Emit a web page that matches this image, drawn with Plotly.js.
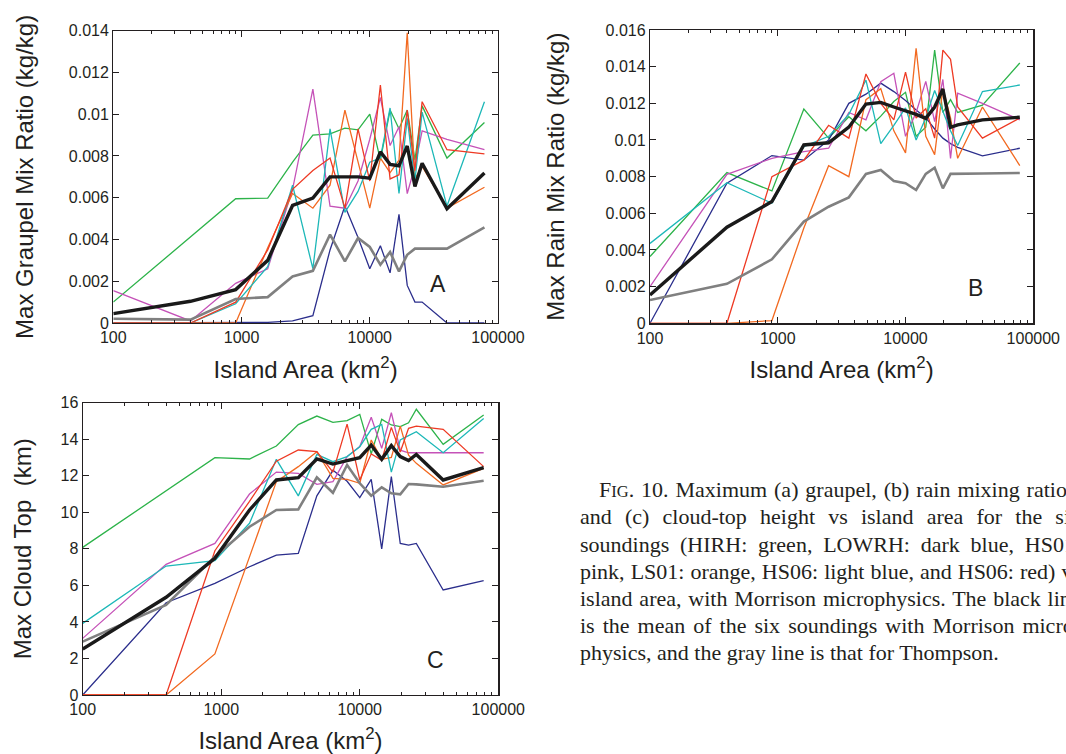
<!DOCTYPE html>
<html>
<head>
<meta charset="utf-8">
<script src="https://cdn.plot.ly/plotly-3.0.1.min.js"></script>
<style>html,body{margin:0;padding:0;background:#fff;}#chart{width:1066px;height:754px;}</style>
</head>
<body>
<div id="chart"></div>
<script>
// Island areas (km^2)
const islandArea = [100, 400, 900, 1600, 2500, 3600, 4900, 6400, 8100, 10000, 12100, 14400, 16900, 19600, 22500, 25600, 40000, 78400];

// Panel A: max graupel mixing ratio (kg/kg)
const graupelHIRH  = [0.001, 0.0041, 0.00595, 0.00598, 0.0077, 0.0090, 0.00906, 0.00933, 0.00925, 0.0100, 0.0078, 0.0102, 0.0093, 0.0102, 0.0078, 0.0104, 0.0079, 0.0096];
const graupelLOWRH = [0, 0, 0, 0.00003, 0.0001, 0.00035, 0.0035, 0.0056, 0.0041, 0.0026, 0.0037, 0.0024, 0.0052, 0.0018, 0.001, 0.001, 0, 0];
const graupelHS01  = [0.00155, 0.0001, 0.0019, 0.0026, 0.0064, 0.0112, 0.0056, 0.0055, 0.0068, 0.0088, 0.0108, 0.0085, 0.0094, 0.0062, 0.0075, 0.0092, 0.0088, 0.0083];
const graupelLS01  = [0, 0, 0, 0.0036, 0.0062, 0.0055, 0.0066, 0.0102, 0.0077, 0.0055, 0.0079, 0.0072, 0.0078, 0.0139, 0.0069, 0.0075, 0.0055, 0.0065];
const graupelHS06b = [0, 0, 0.00092, 0.0027, 0.0066, 0.0026, 0.0093, 0.0053, 0.0063, 0.0077, 0.0079, 0.0103, 0.0062, 0.0098, 0.0068, 0.0101, 0.0056, 0.0106];
const graupelHS06r = [0, 0, 0.001, 0.0035, 0.0064, 0.0073, 0.0079, 0.0055, 0.0093, 0.0068, 0.0114, 0.0069, 0.0071, 0.0102, 0.0073, 0.0106, 0.0083, 0.0081];
const graupelMean  = [0.00045, 0.00104, 0.0016, 0.0030, 0.00563, 0.00598, 0.0070, 0.0070, 0.0070, 0.00694, 0.0082, 0.0076, 0.00753, 0.00848, 0.00654, 0.00765, 0.00547, 0.00718];
const graupelThom  = [0.0002, 0.00016, 0.00115, 0.00124, 0.00223, 0.0025, 0.00423, 0.00295, 0.00407, 0.00364, 0.00279, 0.0034, 0.00247, 0.00327, 0.00356, 0.00356, 0.00356, 0.00458];

// Panel B: max rain mixing ratio (kg/kg)
const rainHIRH  = [0.00364, 0.00822, 0.00722, 0.01169, 0.0101, 0.01127, 0.0105, 0.0113, 0.0121, 0.0126, 0.0102, 0.0107, 0.0149, 0.0115, 0.0122, 0.0115, 0.0119, 0.0142];
const rainLOWRH = [0, 0.00764, 0.00915, 0.0089, 0.0100, 0.0120, 0.0125, 0.0131, 0.01264, 0.01215, 0.01164, 0.01122, 0.0106, 0.0101, 0.0098, 0.0096, 0.00913, 0.00955];
const rainHS01  = [0.002, 0.00813, 0.009, 0.00936, 0.00955, 0.0115, 0.0111, 0.01318, 0.01364, 0.0102, 0.0115, 0.0132, 0.011, 0.0133, 0.009, 0.01255, 0.0120, 0.0111];
const rainLS01  = [0, 0, 0.00015, 0.0052, 0.0086, 0.0080, 0.0122, 0.0128, 0.0105, 0.0093, 0.0150, 0.0102, 0.0092, 0.0128, 0.0112, 0.0090, 0.0118, 0.0086];
const rainHS06b = [0.00436, 0.00767, 0.00655, 0.00964, 0.0102, 0.0114, 0.01327, 0.0098, 0.0108, 0.01175, 0.0100, 0.0112, 0.0127, 0.0116, 0.0105, 0.0097, 0.01264, 0.0130];
const rainHS06r = [0, 0, 0.0080, 0.0089, 0.0108, 0.0101, 0.0136, 0.0120, 0.0111, 0.0137, 0.0112, 0.0117, 0.0101, 0.0149, 0.0144, 0.0118, 0.0101, 0.0112];
const rainMean  = [0.00155, 0.00524, 0.00664, 0.00973, 0.00985, 0.0107, 0.01196, 0.01205, 0.0118, 0.0116, 0.0114, 0.01118, 0.0118, 0.01278, 0.01069, 0.01082, 0.0111, 0.01124];
const rainThom  = [0.00127, 0.00215, 0.00349, 0.00555, 0.00636, 0.00687, 0.00815, 0.00836, 0.00776, 0.00764, 0.00727, 0.00815, 0.00849, 0.00736, 0.00815, 0.00815, 0.00817, 0.0082];

// Panel C: max cloud top (km)
const topHIRH  = [8.08, 11.2, 12.99, 12.92, 13.63, 14.8, 15.27, 14.92, 15.02, 15.36, 13.2, 15.09, 14.78, 14.69, 14.9, 15.64, 13.72, 15.33];
const topLOWRH = [0, 5.05, 6.11, 7.02, 7.66, 7.75, 10.9, 12.3, 11.7, 10.8, 11.8, 8.0, 11.95, 8.3, 8.2, 8.3, 5.75, 6.26];
const topHS01  = [3.1, 7.15, 8.3, 11.0, 12.2, 12.13, 11.53, 11.68, 13.05, 13.6, 15.2, 13.5, 15.45, 13.4, 13.26, 13.26, 13.26, 13.26];
const topLS01  = [0, 0, 2.25, 7.5, 11.68, 12.5, 13.32, 11.86, 11.8, 11.59, 13.96, 12.9, 13.0, 14.72, 13.13, 12.68, 11.5, 12.41];
const topHS06b = [3.92, 7.06, 7.35, 9.4, 12.9, 10.9, 13.17, 12.77, 13.05, 13.59, 14.54, 14.81, 12.2, 13.96, 14.2, 14.41, 13.26, 15.14];
const topHS06r = [0, 0, 7.9, 10.6, 12.8, 13.41, 13.32, 12.2, 14.83, 11.77, 13.2, 12.85, 14.65, 13.3, 14.6, 14.72, 14.54, 12.5];
const topMean  = [2.52, 5.35, 7.48, 10.13, 11.77, 11.9, 12.92, 12.64, 12.83, 12.99, 13.68, 12.9, 13.65, 13.05, 12.83, 13.17, 11.77, 12.44];
const topThom  = [2.92, 4.93, 7.57, 9.21, 10.13, 10.16, 11.91, 11.07, 12.59, 11.59, 10.91, 11.37, 11.04, 10.98, 11.55, 11.53, 11.4, 11.73];

// Tick labels
const xTickVals = [100, 1000, 10000, 100000];
const xTickText = ['100', '1000', '10000', '100000'];
const xMinorVals = [200,300,400,500,600,700,800,900,2000,3000,4000,5000,6000,7000,8000,9000,20000,30000,40000,50000,60000,70000,80000,90000];
const yTickValsA = [0, 0.002, 0.004, 0.006, 0.008, 0.01, 0.012, 0.014];
const yTickTextA = ['0', '0.002', '0.004', '0.006', '0.008', '0.01', '0.012', '0.014'];
const yTickValsB = [0, 0.002, 0.004, 0.006, 0.008, 0.01, 0.012, 0.014, 0.016];
const yTickTextB = ['0', '0.002', '0.004', '0.006', '0.008', '0.01', '0.012', '0.014', '0.016'];
const yTickValsC = [0, 2, 4, 6, 8, 10, 12, 14, 16];
const yTickTextC = ['0', '2', '4', '6', '8', '10', '12', '14', '16'];

const panelLetters = ['A', 'B', 'C'];
// Caption: first line starts with small-caps "FIG."
const captionLead = ['F', 'IG'];
const captionLines = [
  ". 10. Maximum (a) graupel, (b) rain mixing ratios,",
  "and (c) cloud-top height vs island area for the six",
  "soundings (HIRH: green, LOWRH: dark blue, HS01:",
  "pink, LS01: orange, HS06: light blue, and HS06: red) vs",
  "island area, with Morrison microphysics. The black line",
  "is the mean of the six soundings with Morrison micro-",
  "physics, and the gray line is that for Thompson."
];

const W = 1066, H = 754;
const col = {hirh:'#2DB34A', lowrh:'#2B2E8C', hs01:'#C552B8', ls01:'#F26A21', hs06b:'#1DB8B8', hs06r:'#EE3A24', mean:'#1A1A1A', thom:'#808080'};

function panelTraces(xa, ya, s) {
  const thin = 1.3;
  const defs = [
    [s[0], col.hirh, thin], [s[1], col.lowrh, thin], [s[2], col.hs01, thin],
    [s[3], col.ls01, thin], [s[4], col.hs06b, thin], [s[5], col.hs06r, thin],
    [s[7], col.thom, 2.6], [s[6], col.mean, 3.4]
  ];
  return defs.map(d => ({
    x: islandArea, y: d[0], xaxis: xa, yaxis: ya, type: 'scatter', mode: 'lines',
    line: {color: d[1], width: d[2]}, hoverinfo: 'skip'
  }));
}

const traces = [].concat(
  panelTraces('x', 'y', [graupelHIRH, graupelLOWRH, graupelHS01, graupelLS01, graupelHS06b, graupelHS06r, graupelMean, graupelThom]),
  panelTraces('x2', 'y2', [rainHIRH, rainLOWRH, rainHS01, rainLS01, rainHS06b, rainHS06r, rainMean, rainThom]),
  panelTraces('x3', 'y3', [topHIRH, topLOWRH, topHS01, topLS01, topHS06b, topHS06r, topMean, topThom])
);

const axColor = '#231F20';
const tickSize = 16, titleSize = 24;
function xAxis(domL, domR, anchor) {
  return {
    type: 'log', range: [2, 5], domain: [domL / W, domR / W], anchor: anchor,
    tickmode: 'array', tickvals: xTickVals, ticktext: xTickText,
    ticks: 'inside', ticklen: 6, tickwidth: 1, tickcolor: axColor,
    minor: {tickmode: 'array', tickvals: xMinorVals, ticks: 'inside', ticklen: 3, tickwidth: 1, tickcolor: axColor},
    showline: true, linecolor: axColor, linewidth: 1.2, mirror: 'allticks',
    showgrid: false, zeroline: false, tickfont: {size: tickSize, color: axColor},
    title: {text: 'Island Area (km<sup>2</sup>)', font: {size: titleSize, color: axColor}, standoff: 15}
  };
}
function yAxis(top, bot, anchor, rng, tv, tt, title, standoff) {
  return {
    range: rng, domain: [1 - bot / H, 1 - top / H], anchor: anchor,
    tickmode: 'array', tickvals: tv, ticktext: tt,
    ticks: 'inside', ticklen: 6, tickwidth: 1, tickcolor: axColor,
    showline: true, linecolor: axColor, linewidth: 1.2, mirror: 'allticks',
    showgrid: false, zeroline: false, tickfont: {size: tickSize, color: axColor},
    title: {text: title, font: {size: titleSize, color: axColor}, standoff: standoff}
  };
}

const annotations = [
  {text: panelLetters[0], x: 438 / W, y: 1 - 284 / H},
  {text: panelLetters[1], x: 975 / W, y: 1 - 288 / H},
  {text: panelLetters[2], x: 435 / W, y: 1 - 660 / H}
].map(a => Object.assign(a, {xref: 'paper', yref: 'paper', showarrow: false, xanchor: 'center', yanchor: 'middle', font: {size: 23, color: axColor}}));

// Caption, justified to a column edge beyond the right side of the page
const capFamily = 'Liberation Serif';
const capSize = 22, capSmall = 16.5;
const capLeft = 581, capIndent = 600, capRight = 1082;
const capBase = [496.7, 523.3, 551, 578.3, 605, 632.3, 659.3];
const ctx = document.createElement('canvas').getContext('2d');
function measure(str, size) { ctx.font = size + 'px "' + capFamily + '"'; return ctx.measureText(str).width; }
captionLines.forEach((t, i) => {
  const x0 = i === 0 ? capIndent : capLeft;
  let w = measure(t, capSize);
  if (i === 0) w += measure(captionLead[0], capSize) + measure(captionLead[1], capSmall);
  const nSp = (t.match(/ /g) || []).length;
  const ws = (i < captionLines.length - 1 && nSp > 0) ? Math.max(0, (capRight - x0 - w) / nSp) : 0;
  let txt = '<span style="word-spacing:' + ws.toFixed(2) + 'px">' + t + '</span>';
  if (i === 0) txt = captionLead[0] + '<span style="font-size:' + capSmall + 'px">' + captionLead[1] + '</span>' + txt;
  annotations.push({
    text: txt, xref: 'paper', yref: 'paper', x: (x0 - 2) / W, y: 1 - (capBase[i] - 7) / H,
    xanchor: 'left', yanchor: 'middle', showarrow: false, align: 'left', borderpad: 0,
    font: {family: capFamily + ', Times New Roman, serif', size: capSize, color: axColor}
  });
});

const layout = {
  width: W, height: H, margin: {l: 0, r: 0, t: 0, b: 0},
  paper_bgcolor: '#fff', plot_bgcolor: '#fff', showlegend: false,
  font: {family: 'Liberation Sans, Arial, sans-serif', color: axColor},
  xaxis: xAxis(113.3, 498, 'y'),
  yaxis: yAxis(30.7, 323, 'x', [0, 0.014], yTickValsA, yTickTextA, 'Max Graupel Mix Ratio (kg/kg)', 28),
  xaxis2: xAxis(650, 1033.3, 'y2'),
  yaxis2: yAxis(30, 323.3, 'x2', [0, 0.016], yTickValsB, yTickTextB, 'Max Rain Mix Ratio (kg/kg)', 34),
  xaxis3: xAxis(82.7, 498.3, 'y3'),
  yaxis3: yAxis(402.7, 695, 'x3', [0, 16], yTickValsC, yTickTextC, 'Max Cloud Top\u00A0 (km)', 22),
  annotations: annotations
};

Plotly.newPlot('chart', traces, layout, {displayModeBar: false, staticPlot: true});
</script>
</body>
</html>
